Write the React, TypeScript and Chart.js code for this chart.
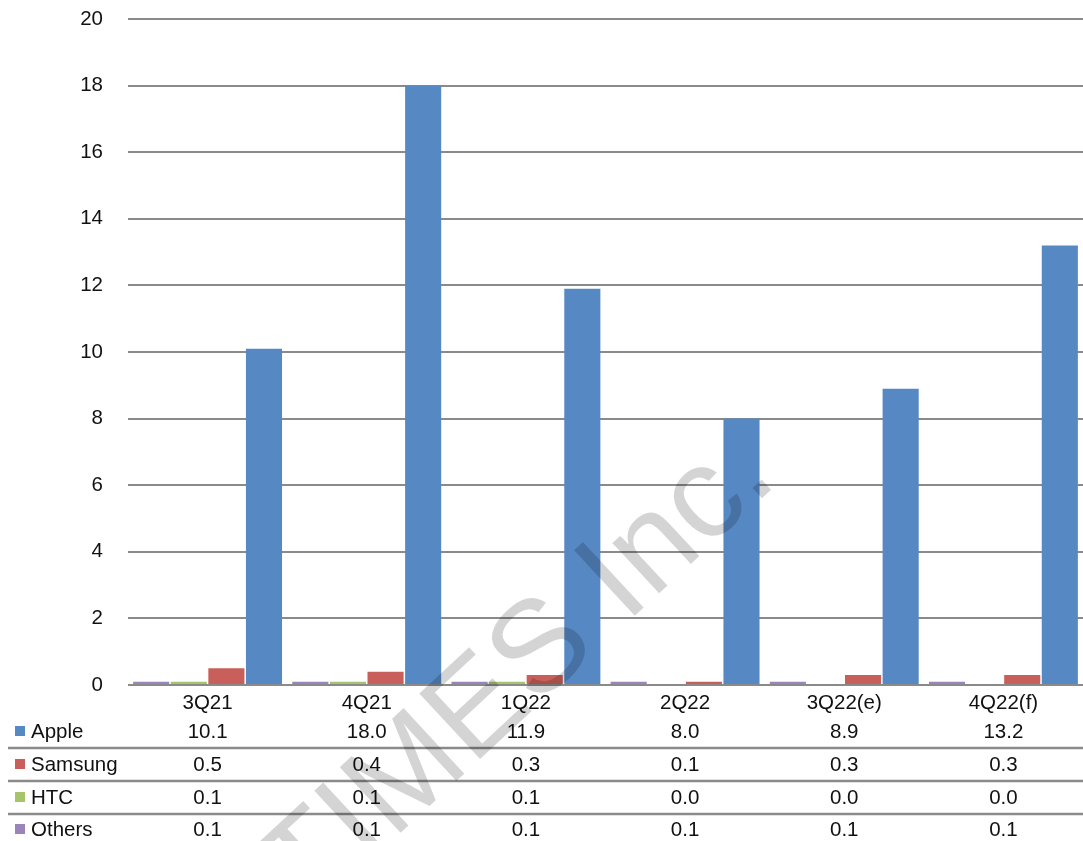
import React, { useEffect, useRef } from "react";
import { Chart, registerables } from "chart.js";

Chart.register(...registerables);

const categories = ["3Q21", "4Q21", "1Q22", "2Q22", "3Q22(e)", "4Q22(f)"];
const appleValues = [10.1, 18.0, 11.9, 8.0, 8.9, 13.2];
const samsungValues = [0.5, 0.4, 0.3, 0.1, 0.3, 0.3];
const htcValues = [0.1, 0.1, 0.1, 0.0, 0.0, 0.0];
const othersValues = [0.1, 0.1, 0.1, 0.1, 0.1, 0.1];
const yTicks = [0, 2, 4, 6, 8, 10, 12, 14, 16, 18, 20];
const watermarkText = "DIGITIMES Inc.";

const COLORS = {
  Apple: "#5688C4",
  Samsung: "#C95F5B",
  HTC: "#A5C46B",
  Others: "#9A84BA",
};

const FONT = "'Liberation Sans', Arial, sans-serif";
const FONT_SIZE = 20.5;

const tableRows = [
  { name: "Apple", values: appleValues, color: COLORS.Apple },
  { name: "Samsung", values: samsungValues, color: COLORS.Samsung },
  { name: "HTC", values: htcValues, color: COLORS.HTC },
  { name: "Others", values: othersValues, color: COLORS.Others },
];

const tablePlugin = {
  id: "dataTable",
  afterDraw(chart: any) {
    const ctx = chart.ctx;
    const xs = chart.scales.x;
    const bottom = chart.chartArea.bottom;
    const rowOffsets = [46, 79, 112, 144];
    const sepOffsets = [63, 96, 129];
    ctx.save();
    ctx.strokeStyle = "#8a8a8a";
    ctx.lineWidth = 2.6;
    sepOffsets.forEach((o) => {
      ctx.beginPath();
      ctx.moveTo(8, bottom + o);
      ctx.lineTo(chart.width, bottom + o);
      ctx.stroke();
    });
    ctx.font = `${FONT_SIZE}px ${FONT}`;
    ctx.textBaseline = "middle";
    tableRows.forEach((row, i) => {
      const y = bottom + rowOffsets[i];
      ctx.fillStyle = row.color;
      ctx.fillRect(15, y - 5, 10, 10);
      ctx.fillStyle = "#111";
      ctx.textAlign = "left";
      ctx.fillText(row.name, 31, y + 1);
      ctx.textAlign = "center";
      row.values.forEach((v, j) => {
        ctx.fillText(v.toFixed(1), xs.getPixelForValue(j), y + 1);
      });
    });
    // watermark
    ctx.translate(112, 1100);
    ctx.rotate((-42.8 * Math.PI) / 180);
    ctx.font = `130px ${FONT}`;
    ctx.textAlign = "left";
    ctx.textBaseline = "alphabetic";
    ctx.fillStyle = "rgba(0,0,0,0.17)";
    ctx.fillText(watermarkText, 0, 0);
    ctx.restore();
  },
};

export default function App() {
  const ref = useRef<HTMLCanvasElement | null>(null);
  useEffect(() => {
    document.body.style.margin = "0";
    if (!ref.current) return;
    Chart.defaults.font.family = FONT;
    const chart = new Chart(ref.current, {
      type: "bar",
      data: {
        labels: categories,
        datasets: [
          { label: "Others", data: othersValues, backgroundColor: COLORS.Others },
          { label: "HTC", data: htcValues, backgroundColor: COLORS.HTC },
          { label: "Samsung", data: samsungValues, backgroundColor: COLORS.Samsung },
          { label: "Apple", data: appleValues, backgroundColor: COLORS.Apple },
        ],
      },
      options: {
        animation: false,
        responsive: false,
        devicePixelRatio: 1,
        layout: { padding: { top: 19, right: 0, left: 0, bottom: 0 } },
        datasets: {
          bar: { barPercentage: 0.96, categoryPercentage: 0.945 },
        },
        plugins: {
          legend: { display: false },
          tooltip: { enabled: false },
          title: { display: false },
        },
        scales: {
          x: {
            grid: { display: false, drawTicks: false },
            border: { display: false },
            ticks: {
              color: "#111",
              font: { size: FONT_SIZE, family: FONT },
              padding: 6,
              maxRotation: 0,
              autoSkip: false,
            },
            afterFit: (scale: any) => {
              scale.height = 156;
            },
          },
          y: {
            min: 0,
            max: 20,
            afterBuildTicks: (scale: any) => {
              scale.ticks = yTicks.map((v) => ({ value: v }));
            },
            grid: {
              color: "#8a8a8a",
              lineWidth: 2,
              drawTicks: true,
              tickLength: 22,
              tickColor: "rgba(0,0,0,0)",
            },
            border: { display: false },
            ticks: {
              color: "#111",
              font: { size: FONT_SIZE, family: FONT },
              padding: 3,
            },
            afterFit: (scale: any) => {
              scale.width = 128;
            },
          },
        },
      },
      plugins: [tablePlugin],
    });
    return () => chart.destroy();
  }, []);
  return (
    <div style={{ position: "fixed", left: 0, top: 0, width: 1083, height: 841, background: "#fff" }}>
      <canvas ref={ref} width={1083} height={841} style={{ width: 1083, height: 841, display: "block" }} />
    </div>
  );
}
